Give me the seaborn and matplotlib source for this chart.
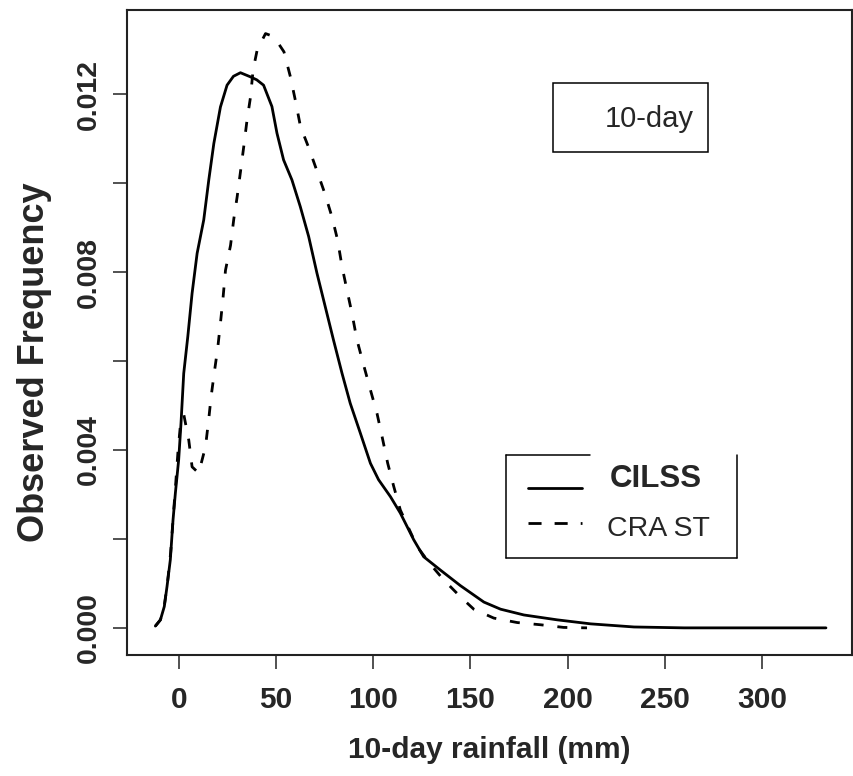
import numpy as np
import pandas as pd
import seaborn as sns
import matplotlib.pyplot as plt
from matplotlib.lines import Line2D
from matplotlib.patches import Rectangle


cilss_x = [-12.2, -9.6, -7.6, -6.2, -4.5, -3.1, -1.9, -0.2, 1.0, 2.4, 4.5, 6.7, 9.3,
           12.7, 15.3, 17.9, 21.3, 24.7, 28.0, 31.6, 36.6, 40.0, 43.5, 47.8, 50.4,
           53.8, 58.1, 62.4, 66.7, 71.0, 74.4, 79.5, 83.9, 88.1, 93.3, 98.5, 102.7,
           108.8, 113.9, 120.8, 125.9, 134.5, 144.8, 156.9, 165.5, 177.5, 194.7,
           211.9, 234.2, 260.0, 333.0]
cilss_y = [0.00004, 0.00018, 0.00048, 0.00093, 0.00153, 0.00243, 0.00303, 0.00378,
           0.00460, 0.00572, 0.00655, 0.00752, 0.00842, 0.00917, 0.01007, 0.01089,
           0.01171, 0.01220, 0.01240, 0.01248, 0.01239, 0.01232, 0.01220, 0.01172,
           0.01112, 0.01052, 0.01007, 0.00947, 0.00880, 0.00797, 0.00737, 0.00647,
           0.00572, 0.00505, 0.00438, 0.00370, 0.00333, 0.00295, 0.00258, 0.00198,
           0.00160, 0.00130, 0.00095, 0.00058, 0.00042, 0.00029, 0.00018, 0.00009,
           0.00002, 0.0, 0.0]

crast_x = [-12.2, -9.6, -7.6, -6.0, -4.3, -3.0, -1.8, -0.5, 1.0, 2.5, 5.0, 6.7, 10.1,
           13.6, 15.3, 16.5, 18.2, 19.9, 21.3, 22.7, 23.9, 26.5, 28.2, 29.9, 31.6,
           33.3, 35.0, 36.8, 38.1, 40.2, 44.5, 47.0, 50.5, 54.0, 57.3, 60.0, 62.5,
           66.7, 71.0, 75.0, 78.7, 81.6, 83.9, 86.4, 89.0, 91.6, 95.0, 98.5, 101.9,
           104.5, 107.4, 110.5, 113.9, 122.5, 129.0, 136.2, 144.8, 151.7, 162.0,
           174.0, 186.0, 198.0, 210.0]
crast_y = [0.00004, 0.00018, 0.00050, 0.00100, 0.00170, 0.00250, 0.00320, 0.00400,
           0.00470, 0.00478, 0.00422, 0.00362, 0.00348, 0.00407, 0.00470, 0.00520,
           0.00576, 0.00629, 0.00685, 0.00745, 0.00804, 0.00860, 0.00920, 0.00969,
           0.01025, 0.01082, 0.01142, 0.01194, 0.01254, 0.01299, 0.01336, 0.01332,
           0.01318, 0.01295, 0.01239, 0.01183, 0.01127, 0.01080, 0.01027, 0.00977,
           0.00924, 0.00872, 0.00812, 0.00760, 0.00707, 0.00647, 0.00591, 0.00535,
           0.00482, 0.00430, 0.00370, 0.00318, 0.00265, 0.00183, 0.00145, 0.00108,
           0.00070, 0.00042, 0.00022, 0.00012, 0.00007, 0.00001, 0.0]

x_ticks = [0, 50, 100, 150, 200, 250, 300]
y_ticks = [0.000, 0.002, 0.004, 0.006, 0.008, 0.010, 0.012]
y_tick_labels = ['0.000', '', '0.004', '', '0.008', '', '0.012']


sns.set_style('ticks')
plt.rcParams['font.family'] = ['Liberation Sans', 'DejaVu Sans']

df = pd.concat([
    pd.DataFrame({'rain': cilss_x, 'freq': cilss_y, 'set': 'CILSS'}),
    pd.DataFrame({'rain': crast_x, 'freq': crast_y, 'set': 'CRA ST'}),
], ignore_index=True)

fig = plt.figure(figsize=(8.54, 7.76), dpi=100)
ax = fig.add_axes([127 / 854, 1 - 655 / 776, 725 / 854, 645 / 776])

sns.lineplot(data=df, x='rain', y='freq', style='set',
             dashes={'CILSS': '', 'CRA ST': (3.6, 5)},
             color='black', linewidth=2.0, estimator=None, legend=False, ax=ax)

ax.set_xlim(-26.8, 346.4)
ax.set_ylim(-0.00061, 0.01389)

ax.set_xticks(x_ticks)
ax.set_xticklabels([str(v) for v in x_ticks], fontweight='bold', fontsize=21.5)
ax.set_yticks(y_ticks)
ax.set_yticklabels(y_tick_labels, fontweight='bold', fontsize=20.5, rotation=90, va='center')
ax.tick_params(axis='both', direction='out', length=10, width=1.1, color='#222222')
ax.tick_params(axis='x', pad=12)
ax.tick_params(axis='y', pad=8)

ax.set_xlabel('10-day rainfall (mm)', fontweight='bold', fontsize=21.5, labelpad=16)
ax.set_ylabel('Observed Frequency', fontweight='bold', fontsize=26)
ax.yaxis.set_label_coords(-0.104, 0.454)

for s in ax.spines.values():
    s.set_visible(True)
    s.set_color('#222222')
    s.set_linewidth(1.5)

# "10-day" label box
ax.add_patch(Rectangle((0.587, 0.780), 0.215, 0.107, transform=ax.transAxes,
                       fill=False, ec='black', lw=1.1))
ax.text(0.720, 0.819, '10-day', transform=ax.transAxes, ha='center', va='baseline', fontsize=21)

# legend box (top edge partly missing as in original)
frame = [((0.523, 0.523), (0.150, 0.310)), ((0.841, 0.841), (0.150, 0.310)),
         ((0.523, 0.841), (0.150, 0.150)), ((0.523, 0.639), (0.310, 0.310))]
for fx, fy in frame:
    ax.add_line(Line2D(fx, fy, transform=ax.transAxes, color='black', lw=1.1))
ax.add_line(Line2D([0.5535, 0.627], [0.2594, 0.2594], transform=ax.transAxes,
                   color='black', lw=2.0))
ax.add_line(Line2D([0.5535, 0.627], [0.2042, 0.2042], transform=ax.transAxes,
                   color='black', lw=2.0, dashes=(4.7, 4.7)))
ax.text(0.666, 0.261, 'CILSS', transform=ax.transAxes, ha='left', va='baseline',
        fontsize=22.5, fontweight='bold')
ax.text(0.662, 0.185, 'CRA ST', transform=ax.transAxes, ha='left', va='baseline', fontsize=20.5)

fig.savefig('out.png', dpi=100)
